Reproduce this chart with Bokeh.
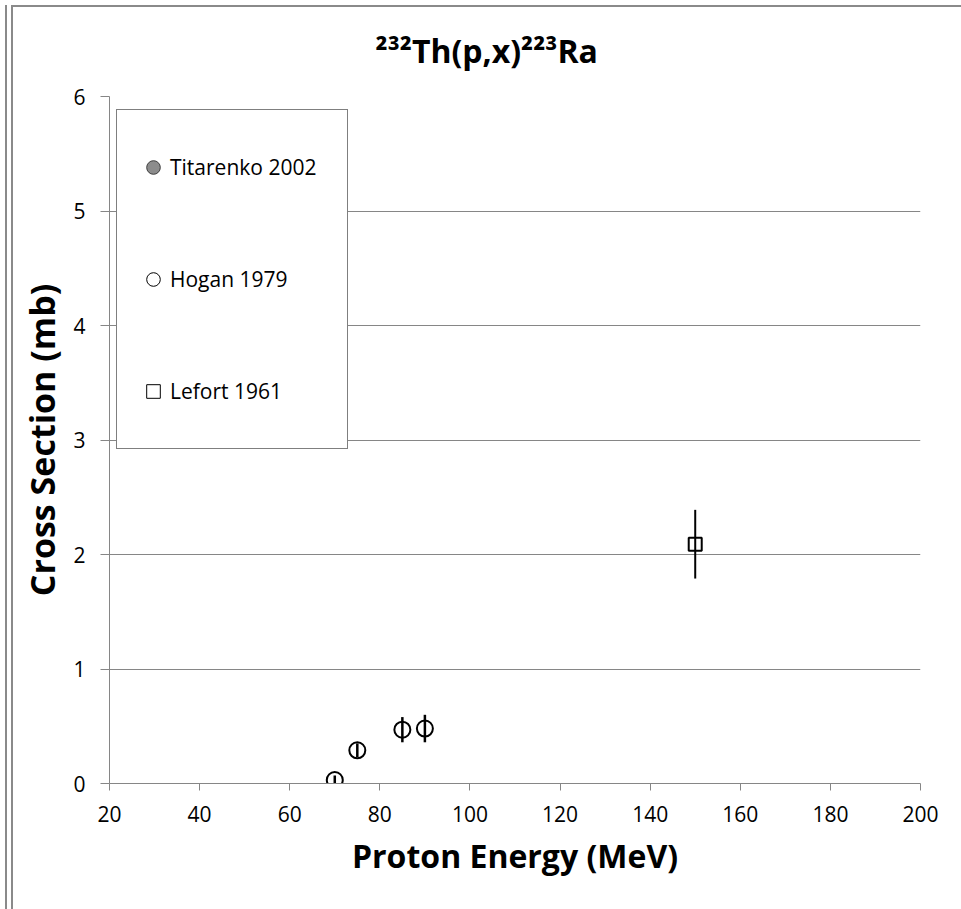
from bokeh.plotting import figure
from bokeh.models import (ColumnDataSource, Legend, LegendItem, FixedTicker, Range1d)
from bokeh.embed import file_html
from bokeh.resources import INLINE
import numpy as np

# ---------------- data ----------------
title_text = "\u00b2\u00b3\u00b2Th(p,x)\u00b2\u00b2\u00b3Ra"
x_label = "Proton Energy (MeV)"
y_label = "Cross Section (mb)"

series_names = ["Titarenko 2002", "Hogan 1979", "Lefort 1961"]

titarenko_energy = []
titarenko_xs = []
titarenko_err = []

hogan_energy = [70, 75, 85, 90]
hogan_xs = [0.03, 0.29, 0.47, 0.48]
hogan_err = [0.04, 0.06, 0.11, 0.12]

lefort_energy = [150]
lefort_xs = [2.09]
lefort_err = [0.30]

x_ticks = [20, 40, 60, 80, 100, 120, 140, 160, 180, 200]
y_ticks = [0, 1, 2, 3, 4, 5, 6]

# ---------------- style ----------------
FONT = "Open Sans"
GRAY = "#868686"
EDGE = "#8a8a8a"

# chart-area edge lines drawn as inset shadows of the plot's own element
shadows = ", ".join([
    "inset 0 5px 0 0 white",
    "inset 5px 0 0 0 white",
    f"inset 7px 0 0 0 {EDGE}",
    "inset 11px 0 0 0 white",
    f"inset 13px 0 0 0 {EDGE}",
    f"inset 0 7px 0 0 {EDGE}",
])

p = figure(width=961, height=909,
           output_backend="svg", toolbar_location=None,
           x_range=Range1d(20, 200), y_range=Range1d(0, 6),
           min_border_left=109, min_border_right=41,
           min_border_top=96, min_border_bottom=126,
           styles={"background-color": "white", "box-shadow": shadows})

p.outline_line_color = None
p.background_fill_color = "white"
p.border_fill_color = None          # let the edge lines show through

p.title.text = title_text
p.title.align = "left"
p.title.offset = 266
p.title.text_font = FONT
p.title.text_font_size = "32px"
p.title.text_font_style = "bold"
p.title.text_color = "black"
p.title.standoff = 50

p.xgrid.visible = False
p.ygrid.grid_line_color = GRAY
p.ygrid.grid_line_width = 1

for ax in (p.xaxis[0], p.yaxis[0]):
    ax.axis_line_color = GRAY
    ax.major_tick_line_color = GRAY
    ax.minor_tick_line_color = None
    ax.major_tick_in = 0
    ax.major_label_text_font = FONT
    ax.major_label_text_font_size = "21px"
    ax.major_label_text_color = "black"
    ax.axis_label_text_font = FONT
    ax.axis_label_text_font_style = "bold"
    ax.axis_label_text_color = "black"

p.xaxis.axis_label_text_font_size = "32px"
p.yaxis.axis_label_text_font_size = "34px"

p.xaxis.ticker = FixedTicker(ticks=x_ticks)
p.yaxis.ticker = FixedTicker(ticks=y_ticks)
p.xaxis.major_tick_out = 7
p.yaxis.major_tick_out = 9
p.xaxis.major_label_standoff = 15
p.yaxis.major_label_standoff = 15
p.xaxis.axis_label = x_label
p.yaxis.axis_label = y_label
p.xaxis.axis_label_standoff = 9
p.yaxis.axis_label_standoff = 5

# ---------------- series ----------------
def make_src(xv, yv, ev):
    xv = np.asarray(xv, dtype=float)
    yv = np.asarray(yv, dtype=float)
    ev = np.asarray(ev, dtype=float)
    return ColumnDataSource(dict(x=xv, y=yv, lo=yv - ev, hi=yv + ev))

tit_src = make_src(titarenko_energy, titarenko_xs, titarenko_err)
hog_src = make_src(hogan_energy, hogan_xs, hogan_err)
lef_src = make_src(lefort_energy, lefort_xs, lefort_err)

TIT_FILL, TIT_LINE = "#8c8c8c", "#3c3c3c"

p.scatter("x", "y", source=tit_src, marker="circle", size=13,
          fill_color=TIT_FILL, line_color=TIT_LINE, line_width=1)
p.segment(x0="x", y0="lo", x1="x", y1="hi", source=tit_src,
          line_color="black", line_width=2)

p.scatter("x", "y", source=hog_src, marker="circle", size=16,
          fill_color="white", line_color="black", line_width=2)
p.segment(x0="x", y0="lo", x1="x", y1="hi", source=hog_src,
          line_color="black", line_width=2.5)

p.scatter("x", "y", source=lef_src, marker="square", size=13,
          fill_color="white", line_color="black", line_width=2)
p.segment(x0="x", y0="lo", x1="x", y1="hi", source=lef_src,
          line_color="black", line_width=2)

# legend swatches: one empty (NaN) row each, so nothing is drawn in the plot
def proxy(marker, fill, line):
    src = ColumnDataSource(dict(x=[np.nan], y=[np.nan]))
    return p.scatter("x", "y", source=src, marker=marker, fill_color=fill,
                     line_color=line, line_width=1)

leg_tit = proxy("circle", TIT_FILL, TIT_LINE)
leg_hog = proxy("circle", "white", "black")
leg_lef = proxy("square", "white", "black")

legend = Legend(
    items=[LegendItem(label=series_names[0], renderers=[leg_tit]),
           LegendItem(label=series_names[1], renderers=[leg_hog]),
           LegendItem(label=series_names[2], renderers=[leg_lef])],
    location=(7, 334), orientation="vertical",
    padding=19, spacing=36, margin=0,
    glyph_width=34, glyph_height=76, label_height=76, label_width=158,
    label_standoff=0,
    label_text_font=FONT, label_text_font_size="21px", label_text_color="black",
    border_line_color="black", border_line_width=1,
    background_fill_color="white", background_fill_alpha=1.0,
)
p.add_layout(legend)

open("out.html", "w").write(file_html(p, INLINE))
